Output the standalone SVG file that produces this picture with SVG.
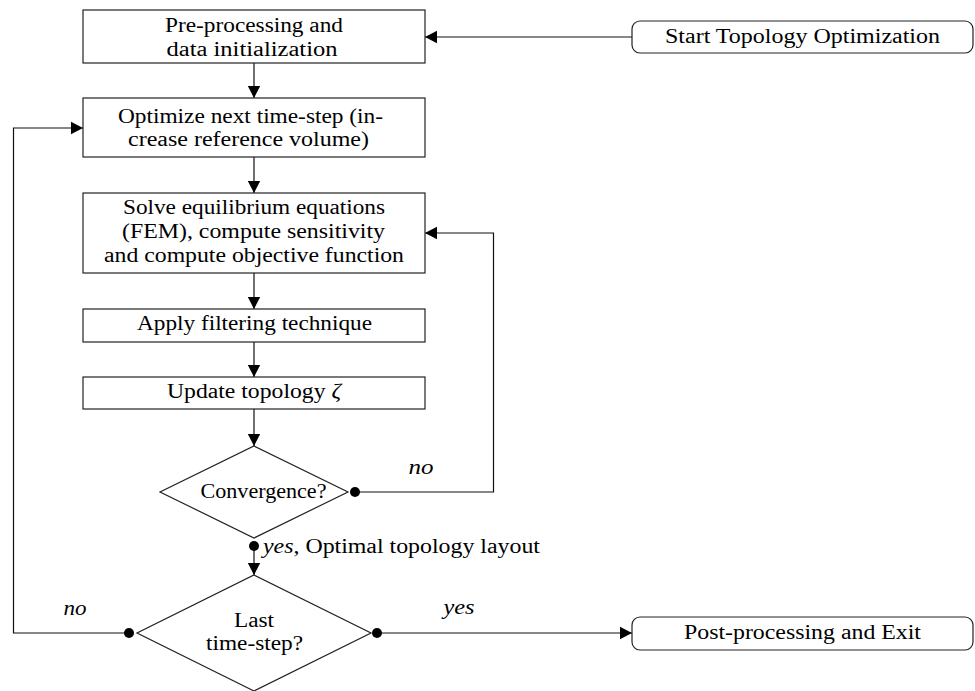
<svg xmlns="http://www.w3.org/2000/svg" width="975" height="691" viewBox="0 0 975 691">
<defs>
<marker id="arr" markerUnits="userSpaceOnUse" markerWidth="14" markerHeight="14" refX="12" refY="7" orient="auto">
<path d="M0,0.8 L12,7 L0,13.2 z" fill="#000"/>
</marker>
<style>
.box{fill:#fff;stroke:#222;stroke-width:1.2}
.t{font-family:"Liberation Serif","DejaVu Serif",serif;font-size:20px;fill:#000;text-anchor:middle}
.i{font-style:italic}
.c{fill:none;stroke:#111;stroke-width:1.2}
.d{fill:#000}
</style>
</defs>
<rect width="975" height="691" fill="#fff"/>
<g id="connectors">
<path class="c" d="M632,37 H425" marker-end="url(#arr)"/>
<path class="c" d="M254,63 V98" marker-end="url(#arr)"/>
<path class="c" d="M254,157 V193" marker-end="url(#arr)"/>
<path class="c" d="M254,273 V309" marker-end="url(#arr)"/>
<path class="c" d="M254,342 V377" marker-end="url(#arr)"/>
<path class="c" d="M254,409 V446" marker-end="url(#arr)"/>
<path class="c" d="M355,492 H493.5 V233 H425" marker-end="url(#arr)"/>
<circle class="d" cx="355" cy="492" r="5"/>
<path class="c" d="M254,546 V575" marker-end="url(#arr)"/>
<circle class="d" cx="254" cy="546" r="5"/>
<path class="c" d="M129,633 H13.5 V128 H83" marker-end="url(#arr)"/>
<circle class="d" cx="129" cy="633" r="5"/>
<path class="c" d="M377,633 H632" marker-end="url(#arr)"/>
<circle class="d" cx="377" cy="633" r="5"/>
<text class="t i" x="421" y="474" textLength="25" lengthAdjust="spacingAndGlyphs">no</text>
<text class="t" x="263" y="553" style="text-anchor:start" textLength="277" lengthAdjust="spacingAndGlyphs"><tspan class="i">yes</tspan>, Optimal topology layout</text>
<text class="t i" x="75" y="615" textLength="23" lengthAdjust="spacingAndGlyphs">no</text>
<text class="t i" x="459" y="614" textLength="31" lengthAdjust="spacingAndGlyphs">yes</text>
</g>
<g id="start">
<rect class="box" x="632" y="21" width="341" height="32" rx="8"/>
<text class="t" x="802.5" y="43" textLength="275" lengthAdjust="spacingAndGlyphs">Start Topology Optimization</text>
</g>
<g id="preprocess">
<rect class="box" x="83" y="10" width="342" height="53"/>
<text class="t" x="254" y="32" textLength="178" lengthAdjust="spacingAndGlyphs">Pre-processing and</text>
<text class="t" x="252" y="56" textLength="171" lengthAdjust="spacingAndGlyphs">data initialization</text>
</g>
<g id="optimize">
<rect class="box" x="83" y="98" width="342" height="59"/>
<text class="t" x="250.5" y="123" textLength="265" lengthAdjust="spacingAndGlyphs">Optimize next time-step (in-</text>
<text class="t" x="248.5" y="146" textLength="241" lengthAdjust="spacingAndGlyphs">crease reference volume)</text>
</g>
<g id="solve">
<rect class="box" x="83" y="193" width="342" height="80"/>
<text class="t" x="254" y="214" textLength="262" lengthAdjust="spacingAndGlyphs">Solve equilibrium equations</text>
<text class="t" x="253.5" y="238" textLength="263" lengthAdjust="spacingAndGlyphs">(FEM), compute sensitivity</text>
<text class="t" x="254" y="262" textLength="300" lengthAdjust="spacingAndGlyphs">and compute objective function</text>
</g>
<g id="filter">
<rect class="box" x="83" y="309" width="342" height="33"/>
<text class="t" x="254.5" y="330" textLength="235" lengthAdjust="spacingAndGlyphs">Apply filtering technique</text>
</g>
<g id="update">
<rect class="box" x="83" y="377" width="342" height="32"/>
<text class="t" x="254" y="398" textLength="174" lengthAdjust="spacingAndGlyphs">Update topology <tspan class="i">ζ</tspan></text>
</g>
<g id="convergence">
<path class="box" d="M254,446 L348,492 L254,538 L160,492 z"/>
<text class="t" x="263.5" y="498" textLength="126" lengthAdjust="spacingAndGlyphs">Convergence?</text>
</g>
<g id="last">
<path class="box" d="M254,575 L371,633 L254,691 L137,633 z"/>
<text class="t" x="254" y="627" textLength="40" lengthAdjust="spacingAndGlyphs">Last</text>
<text class="t" x="254.5" y="650" textLength="97" lengthAdjust="spacingAndGlyphs">time-step?</text>
</g>
<g id="post">
<rect class="box" x="632" y="617" width="341" height="33" rx="8"/>
<text class="t" x="802.5" y="639" textLength="237" lengthAdjust="spacingAndGlyphs">Post-processing and Exit</text>
</g>
</svg>
